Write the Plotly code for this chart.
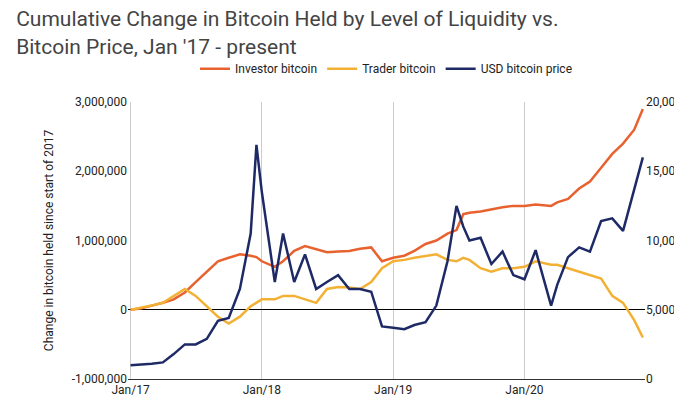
import plotly.graph_objects as go

dates = ["2017-01-01","2017-02-01","2017-03-01","2017-04-01","2017-05-01","2017-06-01","2017-07-01","2017-08-01","2017-09-01","2017-10-01","2017-11-01","2017-12-01","2017-12-17","2018-01-01","2018-02-06","2018-03-01","2018-04-01","2018-05-01","2018-06-01","2018-07-01","2018-08-01","2018-09-01","2018-10-01","2018-11-01","2018-12-01","2019-01-01","2019-02-01","2019-03-01","2019-04-01","2019-05-01","2019-06-01","2019-06-26","2019-07-15","2019-08-01","2019-09-01","2019-10-01","2019-11-01","2019-12-01","2020-01-01","2020-02-01","2020-03-15","2020-04-01","2020-05-01","2020-06-01","2020-07-01","2020-08-01","2020-09-01","2020-10-01","2020-11-01","2020-11-25"]
investor = [0,20000,60000,100000,150000,250000,400000,550000,700000,750000,800000,780000,760000,700000,620000,700000,850000,920000,870000,830000,840000,850000,880000,900000,700000,750000,780000,850000,950000,1000000,1100000,1150000,1380000,1400000,1420000,1450000,1480000,1500000,1500000,1520000,1500000,1550000,1600000,1750000,1850000,2050000,2250000,2400000,2600000,2900000]
trader = [0,30000,60000,100000,200000,300000,200000,50000,-100000,-200000,-100000,50000,100000,150000,150000,200000,200000,150000,100000,300000,330000,320000,300000,400000,600000,700000,720000,750000,780000,800000,720000,700000,750000,720000,600000,550000,600000,600000,620000,700000,650000,650000,600000,550000,500000,450000,200000,100000,-150000,-400000]
price = [1000,1050,1100,1200,1800,2500,2500,2900,4200,4400,6500,10500,16900,13500,7000,10500,7000,9000,6500,7000,7500,6500,6500,6300,3800,3700,3600,3900,4100,5300,8500,12500,11000,10000,10200,8300,9200,7500,7200,9300,5300,6800,8800,9500,9200,11400,11600,10700,13600,16000]

fig = go.Figure()
fig.add_trace(go.Scatter(x=dates, y=investor, name="Investor bitcoin", mode="lines", line=dict(color="#E8622F", width=2.5)))
fig.add_trace(go.Scatter(x=dates, y=trader, name="Trader bitcoin", mode="lines", line=dict(color="#F2B134", width=2.5)))
fig.add_trace(go.Scatter(x=dates, y=price, name="USD bitcoin price", mode="lines", line=dict(color="#1E2A66", width=2.5), yaxis="y2"))

fig.update_layout(
    width=682, height=409, plot_bgcolor="white", paper_bgcolor="white",
    font=dict(family="Roboto", size=12, color="#222"),
    title=dict(text="Cumulative Change in Bitcoin Held by Level of Liquidity vs.<br>Bitcoin Price, Jan '17 - present", x=0.012, xanchor="left", y=0.955, yanchor="top", font=dict(size=21, color="#444")),
    legend=dict(orientation="h", x=0.5, xanchor="center", y=1.12, yanchor="middle", font=dict(size=12)),
    margin=dict(l=120, r=45, t=94, b=38, autoexpand=False),
    xaxis=dict(type="date", range=["2016-12-25", "2020-12-01"], tickvals=["2017-01-01","2018-01-01","2019-01-01","2020-01-01"], ticktext=["Jan/17","Jan/18","Jan/19","Jan/20"], showgrid=True, gridcolor="#cccccc", showline=True, linecolor="#333", ticks=""),
    yaxis=dict(range=[-1000000, 3000000], tickvals=[-1000000,0,1000000,2000000,3000000], ticktext=["-1,000,000","0","1,000,000","2,000,000","3,000,000"], showgrid=False, zeroline=True, zerolinecolor="#000", zerolinewidth=1, title=dict(text="Change in bitcoin held since start of 2017", font=dict(size=12))),
    yaxis2=dict(range=[0, 20000], overlaying="y", side="right", automargin=False, tickvals=[0,5000,10000,15000,20000], ticktext=["0","5,000","10,000","15,000","20,000"], showgrid=False, zeroline=False, title=dict(text="USD bitcoin price", font=dict(size=11), standoff=4)),
)
fig.write_html("out.html")
